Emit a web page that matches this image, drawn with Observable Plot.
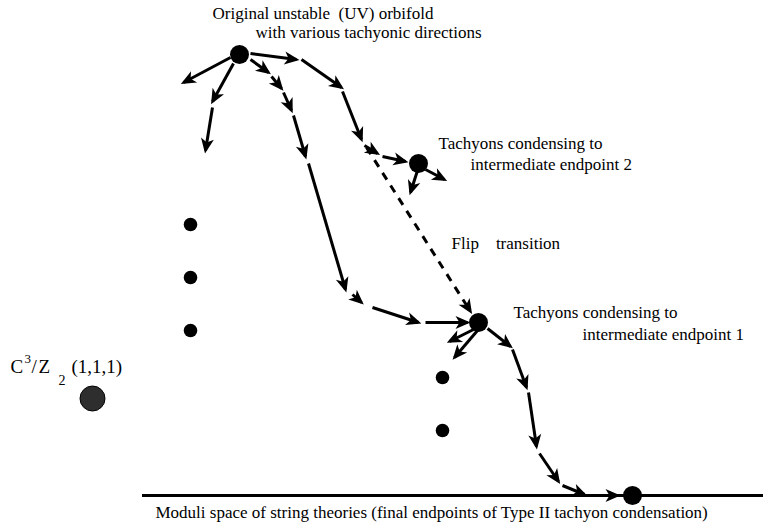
<!DOCTYPE html>
<html>
<head>
<meta charset="utf-8">
<script src="https://cdn.jsdelivr.net/npm/d3@7"></script>
<script src="https://cdn.jsdelivr.net/npm/@observablehq/plot@0.6"></script>
<style>
  html, body { margin: 0; padding: 0; background: #fff; }
  #chart { width: 763px; height: 525px; overflow: hidden; }
</style>
</head>
<body>
<div id="chart"></div>
<script>
// Diagram coordinates (abstract "moduli space" units; y grows downward)
const mainNodes = [
  {name: "UV orbifold", x: 239, y: 54},
  {name: "intermediate endpoint 2", x: 418, y: 163},
  {name: "intermediate endpoint 1", x: 478, y: 322},
  {name: "final endpoint", x: 632, y: 495}
];
const otherDots = [
  {x: 190, y: 224}, {x: 190, y: 277}, {x: 190, y: 330},
  {x: 442, y: 377}, {x: 442, y: 430}
];
const supersymmetricOrbifold = [{x: 92, y: 398}];

// tachyon condensation flows: segments (x1,y1) -> (x2,y2)
const flowFrom = [
  // left branch
  [230, 57], [233, 63], [212, 107],
  // long branch to endpoint 1
  [250, 59], [271, 76], [283, 92], [293, 115], [308, 163], [352, 294], [372, 307], [425, 322],
  // branch to endpoint 2
  [250, 53], [301, 59], [342, 91], [364, 145], [382, 156],
  // out of endpoint 2
  [417, 170], [425, 169],
  // out of endpoint 1
  [475, 328], [477, 330], [487, 328], [512, 349], [528, 392], [539, 453], [562, 485], [587, 495]
];
const flowTo = [
  [183, 82], [212, 101], [205, 150],
  [268, 72], [281, 88], [291, 110], [305, 156], [345, 289], [361, 302], [418, 322], [467, 322],
  [296, 59], [341, 87], [361, 139], [377, 153], [405, 161],
  [410, 192], [444, 179],
  [449, 341], [454, 357], [510, 346], [526, 387], [536, 446], [558, 481], [584, 494], [617, 495]
];
const flows = flowFrom.map((p, i) => ({x1: p[0], y1: p[1], x2: flowTo[i][0], y2: flowTo[i][1]}));
const flip = [{x1: 366, y1: 147, x2: 470, y2: 311}];
const moduliLine = [{x1: 142, x2: 763, y: 495}];

const labels = [
  {text: "Original unstable  (UV) orbifold", x: 212, y: 18},
  {text: "with various tachyonic directions", x: 255, y: 37},
  {text: "Tachyons condensing to", x: 438, y: 148},
  {text: "intermediate endpoint 2", x: 470, y: 169},
  {text: "Flip    transition", x: 451, y: 248},
  {text: "Tachyons condensing to", x: 513, y: 317},
  {text: "intermediate endpoint 1", x: 582, y: 339},
  {text: "Moduli space of string theories (final endpoints of Type II tachyon condensation)", x: 155, y: 517}
];
const orbLabel = [
  {text: "C", x: 10, y: 372, size: 19},
  {text: "3", x: 24, y: 362, size: 13},
  {text: "/", x: 31, y: 372, size: 19},
  {text: "Z", x: 38, y: 372, size: 19},
  {text: "2", x: 58, y: 384, size: 14},
  {text: "(1,1,1)", x: 71, y: 372, size: 19}
];

const font = "Liberation Serif, Times New Roman, serif";

// filled barbed arrowhead, tip pointing along +x
const headSymbol = {
  draw(context) {
    context.moveTo(3, 0);
    context.lineTo(-12, -6.5);
    context.lineTo(-8, 0);
    context.lineTo(-12, 6.5);
    context.closePath();
  }
};
const angle = d => Math.atan2(d.y2 - d.y1, d.x2 - d.x1) * 180 / Math.PI;

const svg = Plot.plot({
  width: 763,
  height: 525,
  margin: 0,
  x: {domain: [0, 763], axis: null},
  y: {domain: [525, 0], axis: null},
  style: {background: "#fff", fontFamily: font},
  marks: [
    Plot.ruleY(moduliLine, {x1: "x1", x2: "x2", y: "y", stroke: "black", strokeWidth: 3}),
    Plot.link(flows, {x1: "x1", y1: "y1", x2: "x2", y2: "y2", stroke: "black", strokeWidth: 3}),
    Plot.link(flip, {x1: "x1", y1: "y1", x2: "x2", y2: "y2", stroke: "black", strokeWidth: 3, strokeDasharray: "8,7"}),
    Plot.dot(flows, {x: "x2", y: "y2", rotate: angle, symbol: headSymbol, fill: "black", stroke: "none", r: 5}),
    Plot.dot(flip, {x: "x2", y: "y2", rotate: angle, symbol: headSymbol, fill: "black", stroke: "none", r: 5}),
    Plot.dot(mainNodes, {x: "x", y: "y", r: 9.5, fill: "black"}),
    Plot.dot(otherDots, {x: "x", y: "y", r: 6.8, fill: "black"}),
    Plot.dot(supersymmetricOrbifold, {x: "x", y: "y", r: 12.5, fill: "#2e2e2e", stroke: "black", strokeWidth: 1}),
    Plot.text(labels, {x: "x", y: "y", text: "text", textAnchor: "start", lineAnchor: "bottom", fontSize: 17, fontFamily: font, fill: "black"}),
    Plot.text(orbLabel, {x: "x", y: "y", text: "text", textAnchor: "start", lineAnchor: "bottom", fontSize: d => d.size, fontFamily: font, fill: "black"})
  ]
});

document.getElementById("chart").appendChild(svg);
</script>
</body>
</html>
